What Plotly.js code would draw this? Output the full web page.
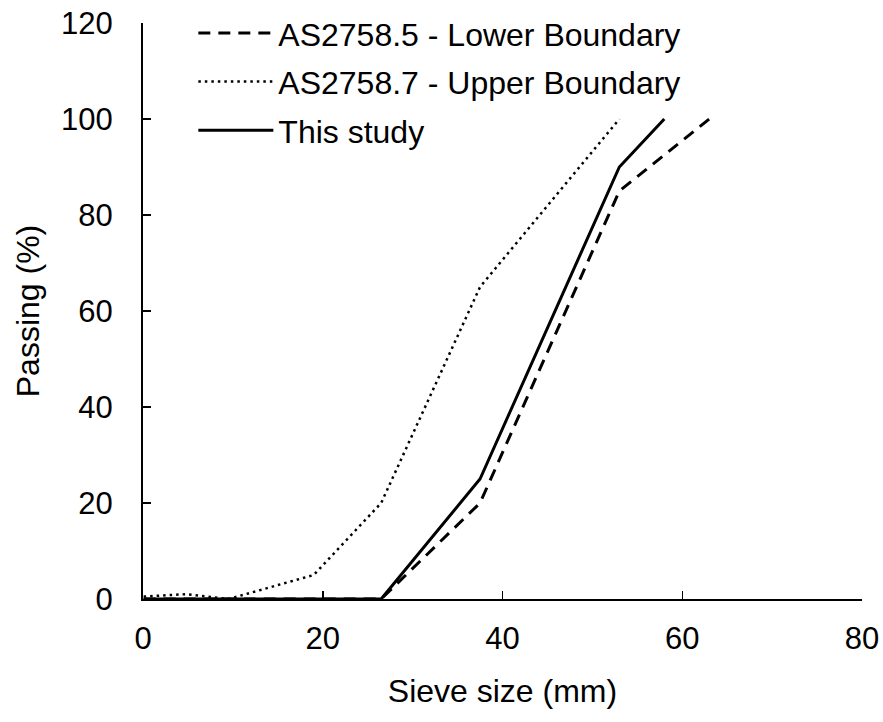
<!DOCTYPE html>
<html>
<head>
<meta charset="utf-8">
<script src="https://cdn.plot.ly/plotly-3.0.1.min.js"></script>
<style>html,body{margin:0;padding:0;background:#fff;}#chart{width:883px;height:722px;}</style>
</head>
<body>
<div id="chart"></div>
<script>
// Data
var lowerSize = [0.075, 9.5, 19, 26.5, 37.5, 53, 63];
var lowerPassing = [0, 0, 0, 0, 20, 85, 100];
var upperSize = [0.075, 4.75, 9.5, 19, 26.5, 37.5, 53];
var upperPassing = [0.5, 1, 0, 5, 20, 65, 100];
var studySize = [0.075, 9.5, 19, 26.5, 37.5, 53, 58];
var studyPassing = [0, 0, 0, 0, 25, 90, 100];
var seriesNames = ['AS2758.5 - Lower Boundary', 'AS2758.7 - Upper Boundary', 'This study'];
var xTicks = [0, 20, 40, 60, 80];
var yTicks = [0, 20, 40, 60, 80, 100, 120];

var font = 'Liberation Sans, Arial, sans-serif';
var traces = [
  {x: lowerSize, y: lowerPassing, name: seriesNames[0], mode: 'lines', legendgroup: 'a',
   line: {color: '#000', width: 3, dash: '12px,8px'}},
  {x: upperSize, y: upperPassing, name: seriesNames[1], mode: 'lines', legendgroup: 'b',
   line: {color: '#000', width: 2.5, dash: '2.5px,4px'}},
  {x: studySize, y: studyPassing, name: seriesNames[2], mode: 'lines', legendgroup: 'c',
   line: {color: '#000', width: 3}}
];
var layout = {
  width: 883, height: 722,
  margin: {l: 143, r: 21, t: 23, b: 123, autoexpand: false},
  paper_bgcolor: '#fff', plot_bgcolor: '#fff',
  font: {family: font, size: 31, color: '#000'},
  showlegend: true,
  legend: {x: 0.07, y: 1.03, xanchor: 'left', yanchor: 'top', bgcolor: 'rgba(0,0,0,0)',
           font: {family: font, size: 32, color: '#000'}, tracegroupgap: 4, traceorder: 'grouped',
           itemwidth: 75},
  xaxis: {range: [0, 80], tickvals: xTicks, ticktext: xTicks.map(String), ticks: 'inside', ticklen: 8,
          tickwidth: 1.5, tickcolor: '#000', showline: true, linecolor: '#000', linewidth: 2,
          showgrid: false, zeroline: false, ticklabelstandoff: 11,
          tickfont: {family: font, size: 31},
          title: {text: 'Sieve size (mm)', font: {family: font, size: 32}, standoff: 24}},
  yaxis: {range: [0, 120], tickvals: yTicks, ticktext: yTicks.map(String), ticks: 'inside', ticklen: 8,
          tickwidth: 1.5, tickcolor: '#000', showline: true, linecolor: '#000', linewidth: 2,
          showgrid: false, zeroline: false, ticklabelstandoff: 22,
          tickfont: {family: font, size: 31},
          title: {text: 'Passing (%)', font: {family: font, size: 32}, standoff: 12}}
};
Plotly.newPlot('chart', traces, layout, {displayModeBar: false, staticPlot: true});
</script>
</body>
</html>
